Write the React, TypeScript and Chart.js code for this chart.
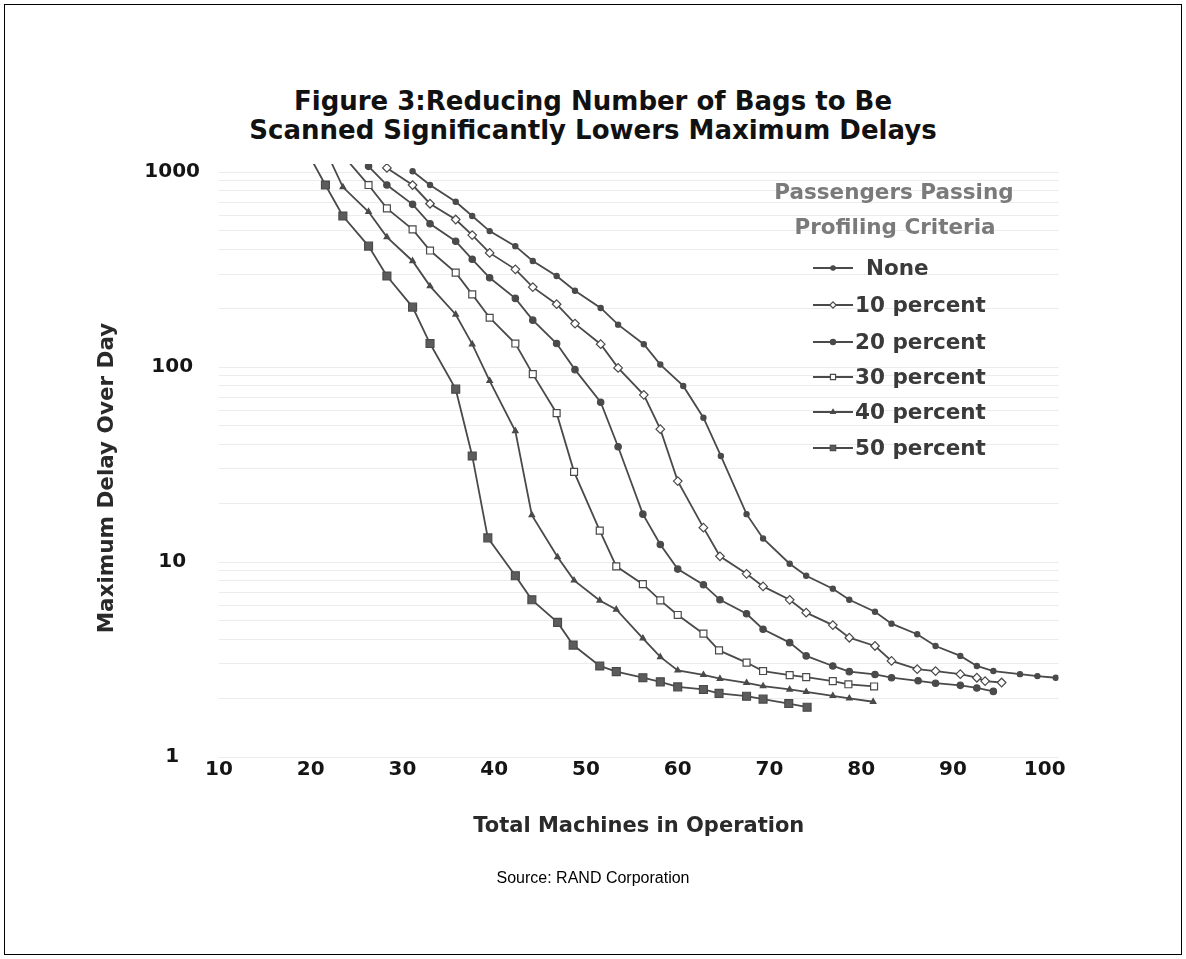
import React, { useEffect, useRef } from 'react';
import { Chart, registerables } from 'chart.js';

Chart.register(...registerables);

// ---- tick labels ----
const yTickValues = [1, 10, 100, 1000];
const xTickValues = [10, 20, 30, 40, 50, 60, 70, 80, 90, 100];

// ---- series names ----
const seriesNames = ['None', '10 percent', '20 percent', '30 percent', '40 percent', '50 percent'];

// ---- data (machines in operation, maximum delay over day) ----
const machinesNone = [31.1, 33.0, 35.8, 37.6, 39.5, 42.3, 44.2, 46.8, 48.8, 51.6, 53.5, 56.3, 58.1, 60.6, 62.8, 64.7, 67.5, 69.3, 72.2, 74.0, 76.9, 78.7, 81.5, 83.3, 86.1, 88.1, 90.8, 92.6, 94.4, 97.3, 99.2, 101.2];
const delayNone = [1010, 858, 704, 595, 498, 417, 350, 293, 246, 201, 165, 131, 103, 80, 55, 35, 17.6, 13.2, 9.8, 8.5, 7.3, 6.4, 5.56, 4.83, 4.26, 3.71, 3.3, 2.93, 2.76, 2.66, 2.6, 2.55];

const machines10 = [28.3, 31.1, 33.0, 35.8, 37.6, 39.5, 42.3, 44.2, 46.8, 48.8, 51.6, 53.5, 56.3, 58.1, 60.0, 62.8, 64.6, 67.5, 69.3, 72.2, 74.0, 76.9, 78.7, 81.5, 83.3, 86.1, 88.1, 90.8, 92.6, 93.5, 95.3];
const delay10 = [1050, 858, 688, 571, 475, 385, 317, 257, 210, 167, 131, 99, 72, 48, 26, 15, 10.7, 8.7, 7.5, 6.4, 5.5, 4.75, 4.09, 3.71, 3.11, 2.82, 2.76, 2.66, 2.55, 2.45, 2.41];

const machines20 = [26.3, 28.3, 31.1, 33.0, 35.8, 37.6, 39.5, 42.3, 44.2, 46.8, 48.8, 51.6, 53.5, 56.2, 58.1, 60.0, 62.8, 64.6, 67.5, 69.3, 72.2, 74.0, 76.9, 78.7, 81.5, 83.3, 86.2, 88.1, 90.8, 92.6, 94.4];
const delay20 = [1070, 858, 683, 543, 442, 357, 287, 225, 174, 132, 97, 66, 39, 17.6, 12.3, 9.2, 7.65, 6.4, 5.43, 4.52, 3.86, 3.3, 2.93, 2.74, 2.65, 2.55, 2.46, 2.39, 2.33, 2.26, 2.17];

const machines30 = [23.0, 26.3, 28.3, 31.1, 33.0, 35.8, 37.6, 39.5, 42.3, 44.2, 46.8, 48.7, 51.5, 53.3, 56.2, 58.1, 60.0, 62.8, 64.5, 67.5, 69.3, 72.2, 74.0, 76.9, 78.6, 81.4];
const delay30 = [1300, 858, 651, 508, 396, 305, 236, 179, 132, 92, 58, 29, 14.5, 9.5, 7.7, 6.36, 5.35, 4.29, 3.52, 3.05, 2.76, 2.63, 2.57, 2.45, 2.36, 2.3];

const machines40 = [21.6, 23.5, 26.3, 28.3, 31.1, 33.0, 35.8, 37.6, 39.5, 42.3, 44.1, 46.9, 48.7, 51.5, 53.3, 56.2, 58.1, 60.0, 62.8, 64.6, 67.5, 69.3, 72.2, 74.0, 76.9, 78.7, 81.3];
const delay40 = [1300, 838, 626, 464, 350, 260, 186, 131, 85, 47, 17.4, 10.6, 8.05, 6.35, 5.71, 4.06, 3.26, 2.78, 2.64, 2.52, 2.4, 2.31, 2.22, 2.16, 2.06, 2.0, 1.92];

const machines50 = [19.5, 21.6, 23.5, 26.3, 28.3, 31.1, 33.0, 35.8, 37.6, 39.3, 42.3, 44.1, 46.9, 48.6, 51.5, 53.3, 56.2, 58.1, 60.0, 62.8, 64.5, 67.5, 69.3, 72.1, 74.1];
const delay50 = [1300, 858, 595, 417, 293, 203, 132, 77, 35, 13.3, 8.5, 6.4, 4.9, 3.75, 2.93, 2.74, 2.55, 2.43, 2.29, 2.22, 2.12, 2.05, 1.98, 1.88, 1.8];

const LINE = '#4a4a4a';
const BOLD_FONT = "'DejaVu Sans', 'Liberation Sans', sans-serif";

type MarkerStyle = { shape: string; radius: number; legendRadius: number; fill: string };
const markerStyles: MarkerStyle[] = [
  { shape: 'circle', radius: 2.6, legendRadius: 2.2, fill: LINE },
  { shape: 'rectRot', radius: 4.3, legendRadius: 3.2, fill: '#ffffff' },
  { shape: 'circle', radius: 3.2, legendRadius: 2.6, fill: LINE },
  { shape: 'rect', radius: 4.9, legendRadius: 3.6, fill: '#ffffff' },
  { shape: 'triangle', radius: 3.2, legendRadius: 2.6, fill: LINE },
  { shape: 'rect', radius: 5.6, legendRadius: 3.8, fill: '#5c5c5c' },
];

function drawMarker(ctx: CanvasRenderingContext2D, s: MarkerStyle, x: number, y: number, r: number) {
  ctx.save();
  ctx.fillStyle = s.fill;
  ctx.strokeStyle = LINE;
  ctx.lineWidth = 1.2;
  ctx.beginPath();
  if (s.shape === 'circle') {
    ctx.arc(x, y, r, 0, Math.PI * 2);
  } else if (s.shape === 'rect') {
    const h = r * Math.SQRT1_2;
    ctx.rect(x - h, y - h, 2 * h, 2 * h);
  } else if (s.shape === 'rectRot') {
    ctx.moveTo(x, y - r);
    ctx.lineTo(x + r, y);
    ctx.lineTo(x, y + r);
    ctx.lineTo(x - r, y);
    ctx.closePath();
  } else {
    ctx.moveTo(x, y - r);
    ctx.lineTo(x + r * 0.87, y + r * 0.5);
    ctx.lineTo(x - r * 0.87, y + r * 0.5);
    ctx.closePath();
  }
  ctx.fill();
  ctx.stroke();
  ctx.restore();
}

const legendPlugin = {
  id: 'profilingLegend',
  afterDraw(chart: any) {
    const ctx: CanvasRenderingContext2D = chart.ctx;
    ctx.save();
    ctx.font = `bold 21.5px ${BOLD_FONT}`;
    ctx.textBaseline = 'middle';
    ctx.textAlign = 'center';
    ctx.fillStyle = '#7a7a7a';
    ctx.fillText('Passengers Passing', 894, 193);
    ctx.fillText('Profiling Criteria', 895, 228);
    const rowsY = [268, 305, 342, 377, 412, 448];
    ctx.textAlign = 'left';
    chart.data.datasets.forEach((ds: any, i: number) => {
      const y = rowsY[i];
      ctx.strokeStyle = LINE;
      ctx.lineWidth = 1.8;
      ctx.beginPath();
      ctx.moveTo(813, y);
      ctx.lineTo(853, y);
      ctx.stroke();
      drawMarker(ctx, markerStyles[i], 833, y, markerStyles[i].legendRadius);
      ctx.fillStyle = '#3a3a3a';
      ctx.fillText(ds.label, i === 0 ? 866 : 855, y + 1);
    });

    // y-axis title
    ctx.save();
    ctx.translate(107, 478);
    ctx.rotate(-Math.PI / 2);
    ctx.textAlign = 'center';
    ctx.textBaseline = 'middle';
    ctx.fillStyle = '#2a2a2a';
    ctx.font = `bold 21.5px ${BOLD_FONT}`;
    ctx.fillText('Maximum Delay Over Day', 0, 0);
    ctx.restore();

    ctx.restore();
  },
};

export default function App() {
  const ref = useRef<HTMLCanvasElement>(null);

  useEffect(() => {
    const canvas = ref.current;
    if (!canvas) return;
    const xs = [machinesNone, machines10, machines20, machines30, machines40, machines50];
    const ys = [delayNone, delay10, delay20, delay30, delay40, delay50];
    const minorTicks: number[] = [];
    yTickValues.forEach((p) => {
      for (let d = 1; d <= 9; d++) {
        if (d * p <= 1100) minorTicks.push(d * p);
      }
    });

    const datasets = seriesNames.map((name, i) => ({
      label: name,
      data: xs[i].map((x, j) => ({ x, y: ys[i][j] })),
      showLine: true,
      borderColor: LINE,
      borderWidth: 1.8,
      pointStyle: markerStyles[i].shape,
      pointRadius: markerStyles[i].radius,
      pointBackgroundColor: markerStyles[i].fill,
      pointBorderColor: LINE,
      pointBorderWidth: 1.2,
      tension: 0,
      fill: false,
    }));

    const chart = new Chart(canvas, {
      type: 'scatter',
      data: { datasets },
      plugins: [legendPlugin],
      options: {
        responsive: false,
        animation: false,
        devicePixelRatio: 1,
        layout: { padding: { left: 0, top: 164, right: 127.5, bottom: 0 } },
        plugins: {
          legend: { display: false },
          tooltip: { enabled: false },
          title: { display: false },
        },
        scales: {
          x: {
            type: 'linear',
            min: 10,
            max: 101.5,
            afterBuildTicks: (s: any) => {
              s.ticks = xTickValues.map((v) => ({ value: v }));
            },
            afterFit: (s: any) => {
              s.height = 959 - 757;
            },
            grid: { display: false, drawTicks: false },
            border: { display: false },
            ticks: {
              autoSkip: false,
              maxRotation: 0,
              padding: 1,
              color: '#151515',
              font: { family: BOLD_FONT, size: 20, weight: 'bold' },
            },
            title: {
              display: true,
              text: 'Total Machines in Operation',
              color: '#2a2a2a',
              font: { family: BOLD_FONT, size: 21, weight: 'bold' },
              padding: { top: 0, bottom: 120 },
            },
          },
          y: {
            type: 'logarithmic',
            min: 1,
            max: 1100,
            afterBuildTicks: (s: any) => {
              s.ticks = minorTicks.map((v) => ({ value: v }));
            },
            afterFit: (s: any) => {
              s.width = 219;
            },
            grid: { color: '#ececec', lineWidth: 1, drawTicks: false },
            border: { display: false },
            ticks: {
              autoSkip: false,
              crossAlign: 'center',
              padding: 19,
              color: '#151515',
              font: { family: BOLD_FONT, size: 20, weight: 'bold' },
              callback: (v: any) => (yTickValues.includes(Number(v)) ? String(v) : ''),
            },
            title: { display: false },
          },
        },
      } as any,
    });
    return () => chart.destroy();
  }, []);

  return (
    <div style={{ position: 'fixed', left: 0, top: 0, width: 1186, height: 959, background: '#ffffff' }}>
      <div
        style={{
          position: 'absolute',
          left: 4,
          top: 4,
          width: 1178,
          height: 951,
          border: '1px solid #000',
          boxSizing: 'border-box',
        }}
      />
      <div
        style={{
          position: 'absolute',
          left: 0,
          top: 87,
          width: 1186,
          textAlign: 'center',
          fontFamily: BOLD_FONT,
          fontWeight: 'bold',
          fontSize: 26,
          lineHeight: '29px',
          color: '#111',
        }}
      >
        <div>Figure 3:Reducing Number of Bags to Be</div>
        <div>Scanned Significantly Lowers Maximum Delays</div>
      </div>
      <canvas
        ref={ref}
        width={1186}
        height={959}
        style={{ position: 'absolute', left: 0, top: 0, width: 1186, height: 959, display: 'block' }}
      />
      <div
        style={{
          position: 'absolute',
          left: 0,
          top: 868,
          width: 1186,
          textAlign: 'center',
          fontFamily: "'Liberation Sans', Arial, sans-serif",
          fontSize: 16,
          lineHeight: '20px',
          color: '#000',
        }}
      >
        Source: RAND Corporation
      </div>
    </div>
  );
}
